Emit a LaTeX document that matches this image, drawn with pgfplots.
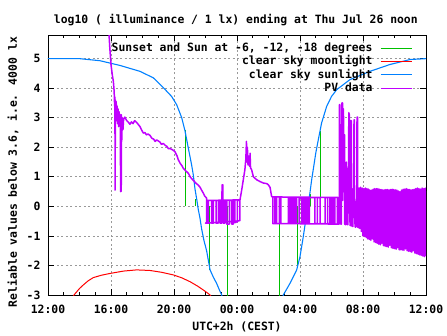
\documentclass[border=0pt]{standalone}
\usepackage{fontspec}
\setmainfont{DejaVu Sans Mono}
\usepackage{pgfplots}
\pgfplotsset{compat=1.18}
\definecolor{gpred}{RGB}{255,0,0}
\definecolor{gpgreen}{RGB}{0,192,0}
\definecolor{gpblue}{RGB}{0,128,255}
\definecolor{gppurple}{RGB}{192,0,255}
\newcommand\gf{\fontsize{11.4}{13}\selectfont\bfseries}
\begin{document}
\begin{tikzpicture}
\useasboundingbox (-48pt,-40pt) rectangle (399pt,295pt);
\begin{axis}[
 at={(0pt,0pt)}, anchor=south west,
 scale only axis, width=378pt, height=260pt,
 xmin=0, xmax=24, ymin=-3, ymax=5.8,
 xtick={0,4,...,24}, xticklabels={12:00,16:00,20:00,00:00,04:00,08:00,12:00},
 minor xtick={1,2,3,5,6,7,9,10,11,13,14,15,17,18,19,21,22,23},
 ytick={-3,-2,-1,0,1,2,3,4,5}, yticklabels={-3,-2,-1,0,1,2,3,4,5},
 grid=major, major grid style={color=black!40, dash pattern=on 2pt off 2.5pt, line width=0.8pt},
 major tick length=6pt, minor tick length=3pt,
 tick style={black, line width=0.8pt},
 axis line style={line width=0.9pt},
 tick label style={font=\gf},
 xticklabel style={yshift=-7pt},
 yticklabel style={xshift=-4pt},
 title={log10 ( illuminance / 1 lx) ending at Thu Jul 26 noon},
 every axis title/.style={font=\gf, at={(axis description cs:0.497,1.057)}, anchor=center},
 xlabel={UTC+2h (CEST)},
 xlabel style={font=\gf, at={(axis description cs:0.5,-0.123)}, anchor=center},
 ylabel={Reliable values below 3.6, i.e. 4000 lx},
 ylabel style={font=\gf, at={(axis description cs:-0.0926,0.473)}, anchor=center},
 legend style={font=\gf, draw=none, fill=none, at={(axis description cs:1,1)}, anchor=north east,
   xshift=-12.7pt, yshift=-6.2pt, row sep=0pt, column sep=6pt, inner sep=0pt,
   nodes={inner sep=1.5pt, text height=8.4pt, text depth=2pt}},
 legend cell align=right,
 legend plot pos=right,
 legend image code/.code={\draw[#1] (0pt,0pt) -- (31.6pt,0pt);},
 unbounded coords=jump,
]
% Sunset and Sun at -6,-12,-18 degrees
\addplot[gpgreen, line width=1.2pt] coordinates {
 (8.74,0) (8.74,2.6) (8.74,nan)
 (9.37,0) (9.37,0.24) (9.37,nan)
 (10.24,0) (10.24,-2.15) (10.24,nan)
 (11.39,0) (11.39,-3.5) (11.39,nan)
 (14.69,0) (14.69,-3.5) (14.69,nan)
 (15.85,0) (15.85,-2.0) (15.85,nan)
 (16.63,0) (16.63,0.42) (16.63,nan)
 (17.29,0) (17.29,2.54)
};
\addlegendentry{Sunset and Sun at -6, -12, -18 degrees}
% clear sky moonlight
\addplot[gpred, line width=1pt] coordinates {
 (1.55,-3.1) (1.65,-3.0) (2.0,-2.78) (2.24,-2.66) (2.55,-2.52) (2.88,-2.41) (3.4,-2.33)
 (3.94,-2.27) (4.8,-2.19) (5.63,-2.15) (6.48,-2.17) (7.2,-2.23) (7.96,-2.32) (8.5,-2.42)
 (9.02,-2.55) (9.5,-2.7) (9.86,-2.83) (10.1,-2.92) (10.29,-3.0) (10.4,-3.08)
};
\addlegendentry{clear sky moonlight}
% clear sky sunlight
\addplot[gpblue, line width=1.1pt] coordinates {
 (0,5.0) (2,5.0) (3.3,4.93) (4.57,4.77) (5.84,4.57) (6.69,4.35) (7.32,4.02) (7.85,3.72)
 (8.17,3.44) (8.49,3.0) (8.7,2.55) (8.91,1.97) (9.12,1.4) (9.23,1.05) (9.33,0.6) (9.44,0.25)
 (9.54,-0.1) (9.65,-0.4) (9.75,-0.75) (9.9,-1.15) (10.07,-1.5) (10.29,-2.15) (10.5,-2.4)
 (10.7,-2.6) (10.9,-2.85) (11.03,-3.0) (11.2,-3.4)
 (14.8,-3.4) (14.94,-3.0) (15.37,-2.6) (15.79,-2.15) (16.0,-1.7) (16.21,-1.02) (16.43,-0.23)
 (16.63,0.45) (16.74,0.9) (16.84,1.24) (17.0,1.8) (17.16,2.25) (17.37,2.82) (17.69,3.38)
 (18.0,3.72) (18.33,3.95) (19.17,4.29) (20.44,4.57) (21.7,4.8) (22.98,4.97) (24,5.0)
};
\addlegendentry{clear sky sunlight}
% PV data
\addplot[gppurple, line width=1.5pt, line join=round] coordinates {
 (3.80,6.5) (3.92,5.4) (4.00,4.80) (4.08,4.46) (4.15,4.23) (4.20,3.90) (4.23,3.40) (4.25,3.70)
 (4.26,0.55) (4.28,3.60) (4.30,3.00) (4.33,3.55) (4.36,2.90) (4.39,3.40) (4.42,2.80) (4.45,3.30)
 (4.48,2.70) (4.52,3.20) (4.56,2.75) (4.59,3.10) (4.61,0.50) (4.65,0.52) (4.66,3.10) (4.68,2.20)
 (4.72,3.00) (4.76,2.60) (4.80,2.95) (4.88,3.02) (5.0,2.90) (5.1,2.85) (5.2,2.78) (5.3,2.86)
 (5.4,2.80) (5.5,2.90) (5.63,2.84) (5.75,2.76) (5.84,2.70) (5.95,2.58) (6.05,2.48) (6.15,2.50)
 (6.25,2.42) (6.35,2.45) (6.48,2.40) (6.6,2.30) (6.7,2.28) (6.8,2.20) (6.9,2.25) (7.1,2.18)
 (7.2,2.10) (7.32,2.13) (7.45,2.06) (7.55,2.03) (7.65,1.95) (7.75,1.96) (7.95,1.90) (8.06,1.85)
 (8.2,1.70) (8.27,1.58) (8.4,1.45) (8.5,1.38) (8.59,1.29) (8.75,1.20) (8.91,1.12) (9.05,0.98)
 (9.23,0.88) (9.4,0.78) (9.54,0.72) (9.65,0.65) (9.75,0.55) (9.86,0.45) (9.95,0.35) (10.07,0.28)
 (10.07,-0.55) (10.18,-0.57) (10.18,0.2) (10.39,0.2) (10.39,-0.57) (10.5,-0.57) (10.5,0.2)
 (10.67,0.2) (10.67,-0.57) (10.81,-0.57) (10.81,0.2) (10.92,0.2) (10.92,-0.57) (11.03,-0.57)
 (11.03,0.2) (11.06,0.73) (11.1,0.73) (11.1,0.2) (11.13,0.2) (11.13,-0.57) (11.24,-0.57)
 (11.24,0.2) (11.35,0.2) (11.35,-0.6) (11.51,-0.6) (11.51,0.2) (11.66,0.2) (11.66,-0.6)
 (11.77,-0.6) (11.77,0.2) (11.87,0.2) (11.87,-0.55) (12.02,-0.52) (12.02,0.2) (12.19,0.2)
 (12.19,-0.48) (12.0,-0.5) (10.0,-0.57) (10.07,-0.55) (10.07,0.2) (12.19,0.22)
 (12.3,0.56) (12.4,0.9) (12.5,1.24) (12.56,1.6) (12.6,2.2) (12.63,1.5) (12.66,2.0) (12.7,1.4)
 (12.74,1.7) (12.8,1.35) (12.83,1.8) (12.86,1.3) (12.93,1.24) (13.04,1.0) (13.25,0.9)
 (13.46,0.84) (13.67,0.79) (13.89,0.77) (13.99,0.73) (14.1,0.64) (14.2,0.33)
 (14.27,0.32) (14.27,-0.58) (14.41,-0.58) (14.41,0.3) (14.52,0.3) (14.52,-0.58) (14.69,-0.58)
 (14.69,0.3) (14.78,0.3) (14.78,-0.58) (15.26,-0.58) (15.26,0.28) (15.37,0.28) (15.37,-0.58)
 (15.47,-0.58) (15.47,0.28) (15.58,0.28) (15.58,-0.58) (15.68,-0.58) (15.68,0.28) (15.79,0.28)
 (15.79,-0.58) (15.95,-0.58) (15.95,0.28) (16.11,0.28) (16.11,-0.58) (16.21,-0.58) (16.21,0.3)
 (16.32,0.3) (16.32,-0.58) (16.43,-0.58) (16.43,0.3) (16.53,0.3) (16.53,-0.58) (16.59,-0.58)
 (16.59,0.3) (16.95,0.3) (16.95,-0.58) (17.1,-0.58) (17.1,0.3) (17.27,0.3) (17.27,-0.58)
 (17.59,-0.58) (17.59,0.3) (17.75,0.3) (17.75,-0.58) (17.9,-0.58) (17.9,0.3) (18.01,0.3)
 (18.01,-0.6) (18.11,-0.6) (18.11,0.3) (18.22,0.3) (18.22,-0.6) (18.37,-0.6) (18.37,0.3)
 (18.45,0.3) (18.45,-0.6) (14.27,-0.58) (14.27,0.32) (18.45,0.3)
 (18.5,-0.6) (18.5,3.44) (18.53,3.44) (18.53,0.3) (18.58,0.3) (18.58,-0.6) (18.63,-0.6)
 (18.63,1.2) (18.66,3.5) (18.7,3.5) (18.7,0.2) (18.74,1.0) (18.76,3.3) (18.78,0.5) (18.81,2.42)
 (18.84,2.42) (18.84,-0.6) (18.9,-0.62) (18.9,0.6) (18.95,1.5) (18.97,0.2) (19.0,-0.62)
 (19.04,-0.62) (19.04,1.2) (19.08,1.3) (19.1,3.17) (19.13,3.1) (19.13,0.3) (19.18,-0.65)
 (19.21,-0.65) (19.22,2.9) (19.26,2.9) (19.26,0.2) (19.3,0.25) (19.3,-0.67) (19.36,-0.68)
 (19.36,0.6) (19.4,0.4) (19.43,2.93) (19.46,2.93) (19.46,-0.2) (19.5,-0.7) (19.55,-0.7)
 (19.55,0.1) (19.6,0.3) (19.62,3.02) (19.66,3.02) (19.66,-0.7) (19.72,-0.72) (19.72,0.6)
 (19.75,0.62) (19.80,-0.75) (19.85,0.65) (19.90,-0.85) (19.95,0.62) (20.00,-1.0) (20.05,0.6)
 (20.10,-1.02) (20.15,0.62) (20.20,-1.05) (20.25,0.6) (20.30,-1.1) (20.35,0.58) (20.40,-1.12)
 (20.45,0.55) (20.50,-1.15) (20.55,0.55) (20.60,-1.1) (20.65,0.58) (20.70,-1.2) (20.75,0.6)
 (20.80,-1.22) (20.85,0.6) (20.90,-1.25) (20.95,0.6) (21.00,-1.28) (21.05,0.58) (21.10,-1.3)
 (21.15,0.57) (21.20,-1.25) (21.25,0.56) (21.30,-1.33) (21.35,0.56) (21.40,-1.35) (21.45,0.57)
 (21.50,-1.36) (21.55,0.57) (21.60,-1.38) (21.65,0.56) (21.70,-1.32) (21.75,0.57) (21.80,-1.4)
 (21.85,0.58) (21.90,-1.42) (21.95,0.57) (22.00,-1.43) (22.05,0.56) (22.10,-1.45) (22.15,0.55)
 (22.20,-1.4) (22.25,0.52) (22.30,-1.47) (22.35,0.5) (22.40,-1.47) (22.45,0.55) (22.50,-1.48)
 (22.55,0.58) (22.60,-1.49) (22.65,0.58) (22.70,-1.44) (22.75,0.6) (22.80,-1.5) (22.85,0.58)
 (22.90,-1.52) (22.95,0.57) (23.00,-1.53) (23.05,0.56) (23.10,-1.55) (23.15,0.56) (23.20,-1.5)
 (23.25,0.58) (23.30,-1.58) (23.35,0.6) (23.40,-1.6) (23.45,0.62) (23.50,-1.62) (23.55,0.6)
 (23.60,-1.64) (23.65,0.58) (23.70,-1.66) (23.75,0.62) (23.80,-1.68) (23.85,0.6) (23.90,-1.7)
 (23.95,0.62) (24.00,-1.68)
};
\addlegendentry{PV data}
\end{axis}
\end{tikzpicture}
\end{document}
